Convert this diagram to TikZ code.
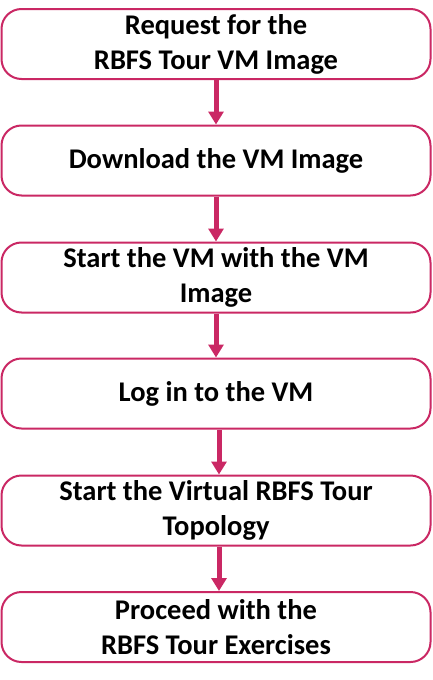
\documentclass[tikz,border=0pt]{standalone}
\usepackage{fontspec}
\setmainfont{Carlito}
\usetikzlibrary{arrows.meta}
\definecolor{tourred}{RGB}{202,40,100}
\begin{document}
\begin{tikzpicture}[x=1pt, y=-1pt, line width=2pt,
        stage/.style={draw=tourred, fill=white, rounded corners=20pt, minimum width=429pt,
            minimum height=70pt, align=center, inner sep=0pt,
            font=\fontsize{28.5}{35}\selectfont\bfseries},
        flow/.style={draw=tourred, line width=5pt, -{Triangle[width=15pt,length=13pt]}}]
    \useasboundingbox (0,0) rectangle (432,680);
    \foreach \n/\y/\t in {1/44/{Request for the\\RBFS Tour VM Image},
                          2/160.5/{Download the VM Image},
                          3/277.5/{Start the VM with the VM\\Image},
                          4/393.5/{Log in to the VM},
                          5/510.5/{Start the Virtual RBFS Tour\\Topology},
                          6/627/{Proceed with the\\RBFS Tour Exercises}}{
        \node[stage] (b\n) at (216, \y) {\t};
    }
    \foreach \a/\b/\dx in {1/2/0, 2/3/0, 3/4/0, 4/5/3, 5/6/3}{
        \draw[flow] ([xshift=\dx pt]b\a.south) -- ([xshift=\dx pt]b\b.north);
    }
\end{tikzpicture}
\end{document}
